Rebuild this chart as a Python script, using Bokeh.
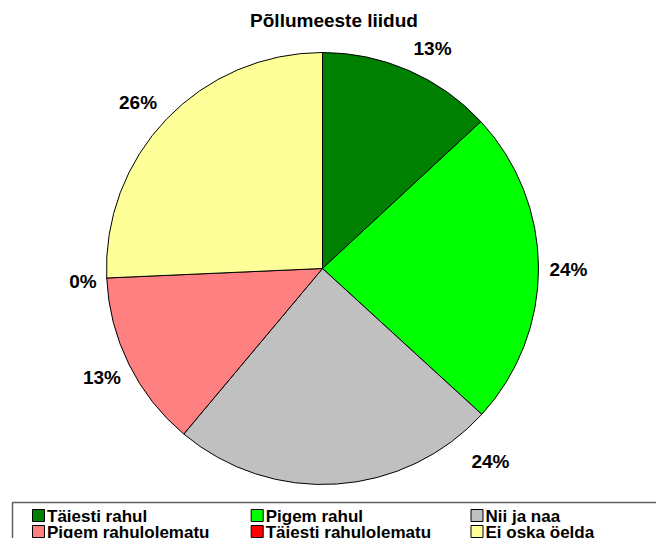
import math
from bokeh.plotting import figure
from bokeh.models import Range1d, ColumnDataSource
from bokeh.core.properties import value
from bokeh.embed import file_html
from bokeh.resources import INLINE

# ---- data ----
title = "Põllumeeste liidud"
categories = ["Täiesti rahul", "Pigem rahul", "Nii ja naa",
              "Pigem rahulolematu", "Täiesti rahulolematu", "Ei oska öelda"]
shares = [13.1, 23.7, 24.3, 13.2, 0.0, 25.7]
labels = ["13%", "24%", "24%", "13%", "0%", "26%"]
colors = ["#008000", "#00FF00", "#C0C0C0", "#FF8080", "#FF0000", "#FFFF99"]

# ---- style ----
W, H = 656, 538
FONT = value("Liberation Sans")
CX, CY, R = 322, 270, 216
LABEL_R = 246
LABEL_ANGLE_SHIFT = [3.0, 0.3, -37.3, 0.0, -0.7, -1.8]   # degrees (label nudge)
LABEL_R_EXTRA = [0, 0, 9.5, 0, -6, 2]

p = figure(width=W, height=H, output_backend="svg", toolbar_location=None,
           x_range=Range1d(0, W), y_range=Range1d(0, H), min_border=0)
p.axis.visible = False
p.grid.visible = False
p.outline_line_color = None
p.background_fill_color = "white"

total = sum(shares)
starts, ends, mids, wcols = [], [], [], []
cum = 0.0
for s, c in zip(shares, colors):
    a0 = cum / total * 2 * math.pi
    cum += s
    a1 = cum / total * 2 * math.pi
    mids.append((a0 + a1) / 2)
    if s > 0:
        starts.append(math.pi / 2 - a0)
        ends.append(math.pi / 2 - a1)
        wcols.append(c)

src = ColumnDataSource(dict(start=starts, end=ends, color=wcols))
p.wedge(x=CX, y=CY, radius=R, start_angle="start", end_angle="end",
        direction="clock", fill_color="color", line_color="black",
        line_width=1, source=src)

lx, ly = [], []
for m, sh, ex in zip(mids, LABEL_ANGLE_SHIFT, LABEL_R_EXTRA):
    a = m + math.radians(sh)
    rr = LABEL_R + ex
    lx.append(CX + rr * math.sin(a))
    ly.append(CY + rr * math.cos(a))
p.text(x=lx, y=ly, text=labels, text_font=FONT, text_font_style="bold",
       text_font_size="19px", text_align="center", text_baseline="middle",
       text_color="black")

# title
p.text(x=[333.5], y=[H - 20], text=[title], text_font=FONT, text_font_style="bold",
       text_font_size="19px", text_align="center", text_baseline="middle",
       text_color="black")

# legend box
LEG_TOP = H - 502
p.quad(left=[12], right=[W + 40], top=[LEG_TOP], bottom=[-40],
       fill_color="white", line_color="#606060", line_width=1.5)
col_x = [38, 256.7, 476.5]
row_y = [LEG_TOP - 13, LEG_TOP - 29]
sq_x, sq_y, tx, ty = [], [], [], []
for i in range(len(categories)):
    c, r = i % 3, i // 3
    sq_x.append(col_x[c])
    sq_y.append(row_y[r])
    tx.append(col_x[c] + 8.5)
    ty.append(row_y[r] - 0.7)
p.rect(x=sq_x, y=sq_y, width=12, height=12, fill_color=colors,
       line_color="black", line_width=1)
p.text(x=tx, y=ty, text=categories, text_font=FONT, text_font_style="bold",
       text_font_size="17px", text_align="left", text_baseline="middle",
       text_color="black")

open("out.html", "w").write(file_html(p, INLINE))
